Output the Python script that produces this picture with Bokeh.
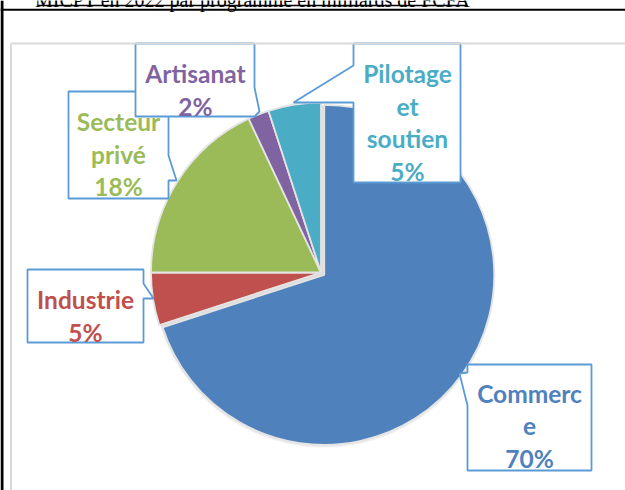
import math
from bokeh.plotting import figure
from bokeh.models import Range1d, ColumnDataSource
from bokeh.core.properties import value
from bokeh.embed import file_html
from bokeh.resources import INLINE

# ---- data ----
title_text = "MICPT en 2022 par programme en milliards de FCFA"
categories = ["Commerce", "Industrie", "Secteur privé", "Artisanat", "Pilotage et soutien"]
values = [70, 5, 18, 2, 5]
colors = ["#4F81BD", "#C0504D", "#9BBB59", "#8064A2", "#4BACC6"]
label_lines = [["Commerc", "e", "70%"], ["Industrie", "5%"], ["Secteur", "privé", "18%"],
               ["Artisanat", "2%"], ["Pilotage", "et", "soutien", "5%"]]

# ---- layout (page pixel coordinates) ----
W, H = 625, 490
def Y(y):
    return H - y

CX, CY, R = 320.5, 272.0, 170.0
EXPLODE = [4.0, 0, 0, 0, 0]

# label text positions: (x centre, first baseline)
label_pos = [(529, 393), (85, 299), (118, 121), (195, 73), (407, 73)]
LINE_H = 32.5
# callout box outlines
boxes = [
    [(467, 364), (591, 364), (591, 470), (467, 470), (467, 405), (459, 373), (467, 372)],
    [(27, 269), (143, 269), (143, 283), (153, 298), (143, 298), (143, 342), (27, 342)],
    [(68, 91), (168, 91), (168, 155), (176, 180), (168, 180), (168, 198), (68, 198)],
    [(135, 43), (254, 43), (254, 87), (259, 111), (254, 116), (135, 116)],
    [(353, 43), (460, 43), (460, 182), (353, 182), (353, 102), (293, 102), (353, 65)],
]
draw_order = [0, 1, 2, 3, 4]

p = figure(width=W, height=H, x_range=Range1d(0, W), y_range=Range1d(0, H),
           output_backend="svg", toolbar_location=None, min_border=0)
p.axis.visible = False
p.grid.visible = False
p.outline_line_color = None
p.background_fill_color = "white"
p.border_fill_color = "white"

# document title (cut off at the top of the page, as in the reference)
p.text(x=[252], y=[Y(-1)], text=[title_text], text_font=value("Liberation Serif"),
       text_font_size="20px", text_color="black", text_align="center", text_baseline="alphabetic")
p.line(x=[37, 467], y=[Y(5.0), Y(5.0)], line_color="black", line_width=1.5)

# shadow
p.circle(x=[CX + 3], y=[Y(CY + 4)], radius=R + 1, fill_color="#000000", fill_alpha=0.07, line_color=None)
p.circle(x=[CX + 2], y=[Y(CY + 2.5)], radius=R, fill_color="#000000", fill_alpha=0.07, line_color=None)

total = float(sum(values))
xs, ys, starts, ends = [], [], [], []
cum = 0.0
for v, ex in zip(values, EXPLODE):
    f0 = cum / total
    f1 = (cum + v) / total
    cum += v
    mid = (f0 + f1) / 2 * 2 * math.pi  # clockwise from top
    dx = ex * math.sin(mid)
    dy = ex * math.cos(mid)  # up in data space
    xs.append(CX + dx)
    ys.append(Y(CY) + dy)
    starts.append(math.pi / 2 - f0 * 2 * math.pi)
    ends.append(math.pi / 2 - f1 * 2 * math.pi)

src = ColumnDataSource(dict(x=xs, y=ys, start=starts, end=ends, color=colors, cat=categories, val=values))
p.wedge(x="x", y="y", radius=R, start_angle="start", end_angle="end", direction="clock",
        fill_color="color", line_color="#E4E4E4", line_width=1.8, source=src)

for i in draw_order:
    pts = boxes[i]
    p.patch(x=[q[0] for q in pts], y=[Y(q[1]) for q in pts], fill_color="white",
            line_color="#5B9BD5", line_width=1.8)
    cxl, base = label_pos[i]
    lines = label_lines[i]
    p.text(x=[cxl] * len(lines), y=[Y(base + k * LINE_H) for k in range(len(lines))], text=lines,
           text_font=value("Lato"), text_font_style="bold", text_font_size="24.5px",
           text_color=colors[i], text_align="center", text_baseline="alphabetic")

# chart frame and document lines
p.line(x=[10.5, 10.5], y=[Y(43), Y(490)], line_color="#D9D9D9", line_width=2)
p.line(x=[10.5, 625], y=[Y(43), Y(43)], line_color="#D9D9D9", line_width=2)
p.line(x=[0, 625], y=[Y(9.2), Y(9.2)], line_color="black", line_width=2)
p.line(x=[1.5, 1.5], y=[Y(0), Y(490)], line_color="black", line_width=3)

open("out.html", "w").write(file_html(p, INLINE))
